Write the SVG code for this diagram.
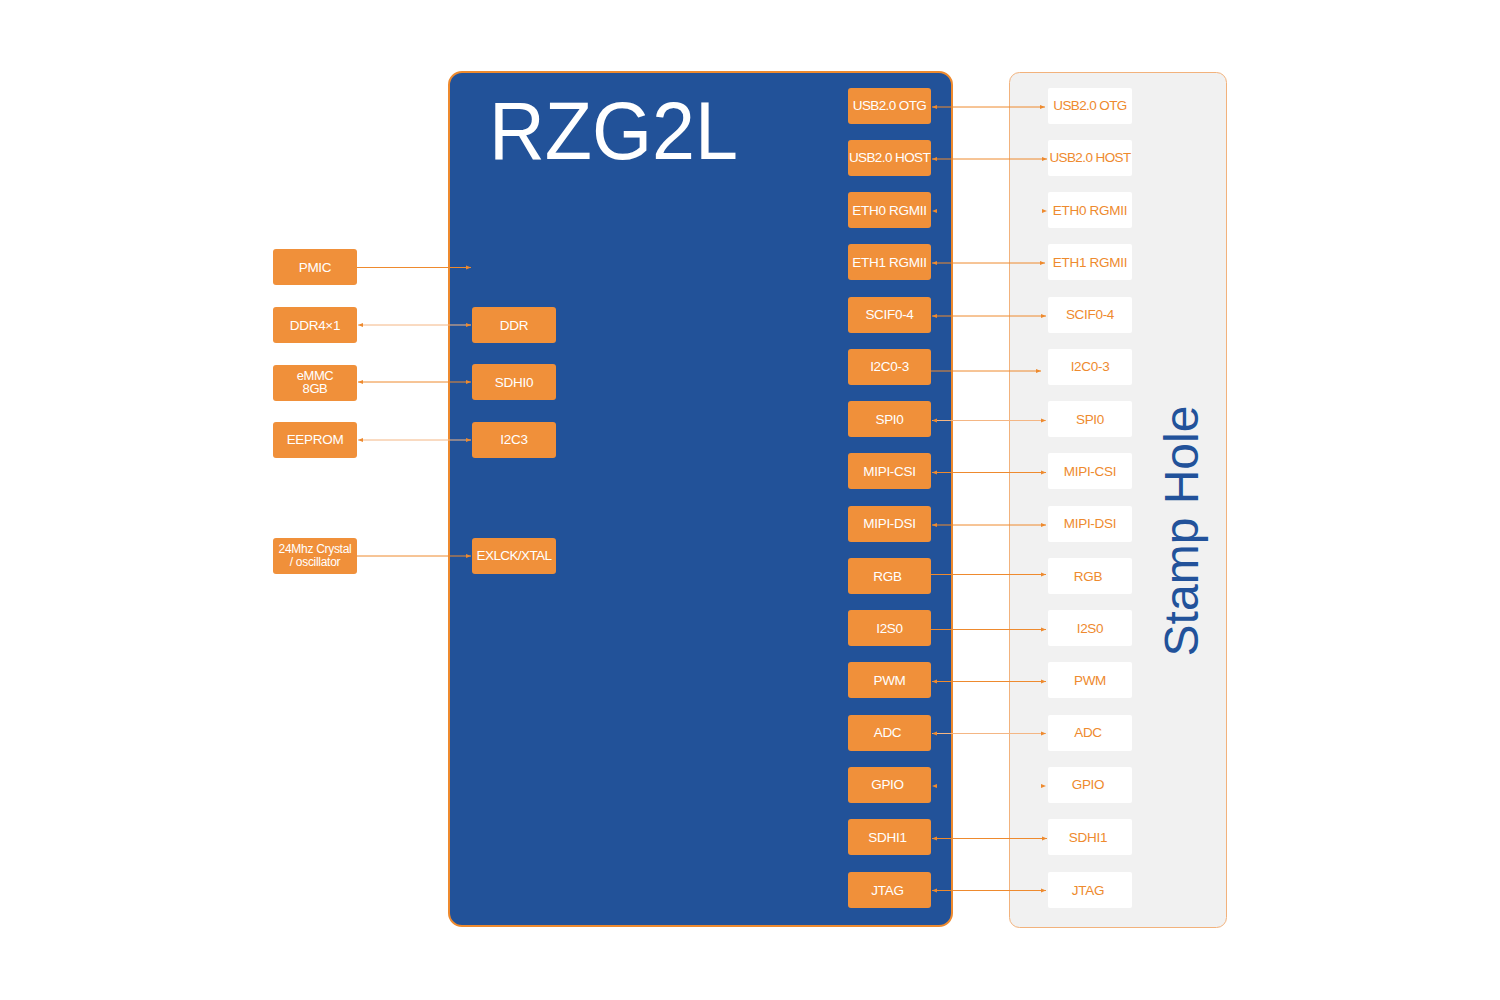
<svg xmlns="http://www.w3.org/2000/svg" width="1500" height="1000" viewBox="0 0 1500 1000">
<defs>
<style>
.bg{fill:#ffffff}
.chip{fill:#225299;stroke:#EE8A2E;stroke-width:2}
.panel{fill:#F1F1F1;stroke:#F2B27C;stroke-width:1}
.node rect{fill:#F0903A}
.node text{fill:#ffffff;font-family:"Liberation Sans",Arial,sans-serif;font-size:13.5px;text-anchor:middle;letter-spacing:-0.3px}
.pin rect{fill:#ffffff}
.pin text{fill:#EE8A2E;font-family:"Liberation Sans",Arial,sans-serif;font-size:13.5px;text-anchor:middle;letter-spacing:-0.3px}
.node text.tight,.pin text.tight{letter-spacing:-0.6px}
.small text{font-size:12px;letter-spacing:-0.3px}
.emmc text{font-size:13px;letter-spacing:-0.4px}
.c{fill:none;stroke:#EE8A2E;stroke-width:1}
.light{stroke:#F4B684}
.ghost{stroke:none}
.title{fill:#ffffff;font-family:"Liberation Sans",Arial,sans-serif;font-size:82px}
.stamp{fill:#22529A;font-family:"Liberation Sans",Arial,sans-serif;font-size:48px;text-anchor:middle}
</style>
<marker id="ah" viewBox="0 0 6 6" refX="6" refY="3" markerWidth="5" markerHeight="5" markerUnits="userSpaceOnUse" orient="auto-start-reverse">
<path d="M0,0.6 L6,3 L0,5.4z" fill="#EE8A2E"/>
</marker>
</defs>
<rect class="bg" x="0" y="0" width="1500" height="1000"/>

<g id="chip">
<rect class="chip" x="449" y="72" width="503" height="854" rx="13"/>
<text class="title" x="489" y="159" textLength="249" lengthAdjust="spacingAndGlyphs">RZG2L</text>
</g>

<g id="stamp-panel">
<rect class="panel" x="1009.5" y="72.5" width="217" height="855" rx="10"/>
<text class="stamp" transform="translate(1198,531) rotate(-90)">Stamp Hole</text>
</g>

<!-- left external nodes -->
<g id="pmic" class="node"><rect x="273" y="249" width="84" height="36" rx="3"/><text x="315" y="271.5">PMIC</text></g>
<g id="ddr4" class="node"><rect x="273" y="307" width="84" height="36" rx="3"/><text x="315" y="329.5">DDR4×1</text></g>
<g id="emmc" class="node emmc"><rect x="273" y="365" width="84" height="36" rx="3"/><text x="315" y="379.5">eMMC</text><text x="315" y="392.5">8GB</text></g>
<g id="eeprom" class="node"><rect x="273" y="422" width="84" height="36" rx="3"/><text x="315" y="443.5">EEPROM</text></g>
<g id="crystal" class="node small"><rect x="273" y="538" width="84" height="36" rx="3"/><text x="315" y="552.5">24Mhz Crystal</text><text x="315" y="566">/ oscillator</text></g>

<!-- inner left nodes -->
<g id="ddr" class="node"><rect x="472" y="307" width="84" height="36" rx="3"/><text x="514" y="329.5">DDR</text></g>
<g id="sdhi0" class="node"><rect x="472" y="364" width="84" height="36" rx="3"/><text x="514" y="386.5">SDHI0</text></g>
<g id="i2c3" class="node"><rect x="472" y="422" width="84" height="36" rx="3"/><text x="514" y="443.5">I2C3</text></g>
<g id="exlck" class="node"><rect x="472" y="538" width="84" height="36" rx="3"/><text x="514" y="559.5" class="tight">EXLCK/XTAL</text></g>

<!-- chip right-side interface nodes -->
<g id="usb-otg" class="node"><rect x="848" y="88" width="83" height="36" rx="3"/><text x="889.5" y="110" class="tight">USB2.0 OTG</text></g>
<g id="usb-host" class="node"><rect x="848" y="140" width="83" height="36" rx="3"/><text x="889.5" y="162" class="tight">USB2.0 HOST</text></g>
<g id="eth0" class="node"><rect x="848" y="192" width="83" height="36" rx="3"/><text x="889.5" y="214.5">ETH0 RGMII</text></g>
<g id="eth1" class="node"><rect x="848" y="244" width="83" height="36" rx="3"/><text x="889.5" y="266.5">ETH1 RGMII</text></g>
<g id="scif" class="node"><rect x="848" y="297" width="83" height="36" rx="3"/><text x="889.5" y="319">SCIF0-4</text></g>
<g id="i2c" class="node"><rect x="848" y="349" width="83" height="36" rx="3"/><text x="889.5" y="371">I2C0-3</text></g>
<g id="spi" class="node"><rect x="848" y="401" width="83" height="36" rx="3"/><text x="889.5" y="423.5">SPI0</text></g>
<g id="csi" class="node"><rect x="848" y="453" width="83" height="36" rx="3"/><text x="889.5" y="475.5">MIPI-CSI</text></g>
<g id="dsi" class="node"><rect x="848" y="506" width="83" height="36" rx="3"/><text x="889.5" y="528">MIPI-DSI</text></g>
<g id="rgb" class="node"><rect x="848" y="558" width="83" height="36" rx="3"/><text x="887.5" y="580.5">RGB</text></g>
<g id="i2s" class="node"><rect x="848" y="610" width="83" height="36" rx="3"/><text x="889.5" y="632.5">I2S0</text></g>
<g id="pwm" class="node"><rect x="848" y="662" width="83" height="36" rx="3"/><text x="889.5" y="684.5">PWM</text></g>
<g id="adc" class="node"><rect x="848" y="715" width="83" height="36" rx="3"/><text x="887.5" y="737">ADC</text></g>
<g id="gpio" class="node"><rect x="848" y="767" width="83" height="36" rx="3"/><text x="887.5" y="789">GPIO</text></g>
<g id="sdhi1" class="node"><rect x="848" y="819" width="83" height="36" rx="3"/><text x="887.5" y="841.5">SDHI1</text></g>
<g id="jtag" class="node"><rect x="848" y="872" width="83" height="36" rx="3"/><text x="887.5" y="894.5">JTAG</text></g>

<!-- stamp hole pins -->
<g id="p-usb-otg" class="pin"><rect x="1048" y="88" width="84" height="36" rx="2"/><text x="1090" y="110" class="tight">USB2.0 OTG</text></g>
<g id="p-usb-host" class="pin"><rect x="1048" y="140" width="84" height="36" rx="2"/><text x="1090" y="162" class="tight">USB2.0 HOST</text></g>
<g id="p-eth0" class="pin"><rect x="1048" y="192" width="84" height="36" rx="2"/><text x="1090" y="214.5">ETH0 RGMII</text></g>
<g id="p-eth1" class="pin"><rect x="1048" y="244" width="84" height="36" rx="2"/><text x="1090" y="266.5">ETH1 RGMII</text></g>
<g id="p-scif" class="pin"><rect x="1048" y="297" width="84" height="36" rx="2"/><text x="1090" y="319">SCIF0-4</text></g>
<g id="p-i2c" class="pin"><rect x="1048" y="349" width="84" height="36" rx="2"/><text x="1090" y="371">I2C0-3</text></g>
<g id="p-spi" class="pin"><rect x="1048" y="401" width="84" height="36" rx="2"/><text x="1090" y="424">SPI0</text></g>
<g id="p-csi" class="pin"><rect x="1048" y="453" width="84" height="36" rx="2"/><text x="1090" y="475.5">MIPI-CSI</text></g>
<g id="p-dsi" class="pin"><rect x="1048" y="506" width="84" height="36" rx="2"/><text x="1090" y="528">MIPI-DSI</text></g>
<g id="p-rgb" class="pin"><rect x="1048" y="558" width="84" height="36" rx="2"/><text x="1088" y="580.5">RGB</text></g>
<g id="p-i2s" class="pin"><rect x="1048" y="610" width="84" height="36" rx="2"/><text x="1090" y="632.5">I2S0</text></g>
<g id="p-pwm" class="pin"><rect x="1048" y="662" width="84" height="36" rx="2"/><text x="1090" y="684.5">PWM</text></g>
<g id="p-adc" class="pin"><rect x="1048" y="715" width="84" height="36" rx="2"/><text x="1088" y="737">ADC</text></g>
<g id="p-gpio" class="pin"><rect x="1048" y="767" width="84" height="36" rx="2"/><text x="1088" y="789">GPIO</text></g>
<g id="p-sdhi1" class="pin"><rect x="1048" y="819" width="84" height="36" rx="2"/><text x="1088" y="841.5">SDHI1</text></g>
<g id="p-jtag" class="pin"><rect x="1048" y="872" width="84" height="36" rx="2"/><text x="1088" y="894.5">JTAG</text></g>

<g id="connectors">
<!-- left -->
<path class="c" d="M357,267.5 H471" marker-end="url(#ah)"/>
<path class="c light" d="M358,325 H471" marker-start="url(#ah)" marker-end="url(#ah)"/>
<path class="c" d="M358,382 H471" marker-start="url(#ah)" marker-end="url(#ah)"/>
<path class="c light" d="M358,440 H471" marker-start="url(#ah)" marker-end="url(#ah)"/>
<path class="c" d="M357,556 H471" marker-end="url(#ah)"/>
<!-- right -->
<path class="c" d="M932,107 H1045" marker-start="url(#ah)" marker-end="url(#ah)"/>
<path class="c" d="M932,159 H1047" marker-start="url(#ah)" marker-end="url(#ah)"/>
<path class="c ghost" d="M932,211 H1047" marker-start="url(#ah)" marker-end="url(#ah)"/>
<path class="c" d="M932,263 H1045" marker-start="url(#ah)" marker-end="url(#ah)"/>
<path class="c" d="M932,316 H1046" marker-start="url(#ah)" marker-end="url(#ah)"/>
<path class="c" d="M931,371 H1041" marker-end="url(#ah)"/>
<path class="c light" d="M932,420.5 H1046" marker-start="url(#ah)" marker-end="url(#ah)"/>
<path class="c" d="M932,472.5 H1046" marker-start="url(#ah)" marker-end="url(#ah)"/>
<path class="c" d="M932,525 H1046" marker-start="url(#ah)" marker-end="url(#ah)"/>
<path class="c" d="M931,574.5 H1046" marker-end="url(#ah)"/>
<path class="c" d="M931,629.5 H1046" marker-end="url(#ah)"/>
<path class="c" d="M932,681.5 H1046" marker-start="url(#ah)" marker-end="url(#ah)"/>
<path class="c light" d="M932,733.5 H1046" marker-start="url(#ah)" marker-end="url(#ah)"/>
<path class="c ghost" d="M932,786 H1046" marker-start="url(#ah)" marker-end="url(#ah)"/>
<path class="c" d="M932,838.5 H1047" marker-start="url(#ah)" marker-end="url(#ah)"/>
<path class="c" d="M932,890.5 H1046" marker-start="url(#ah)" marker-end="url(#ah)"/>
</g>
</svg>
